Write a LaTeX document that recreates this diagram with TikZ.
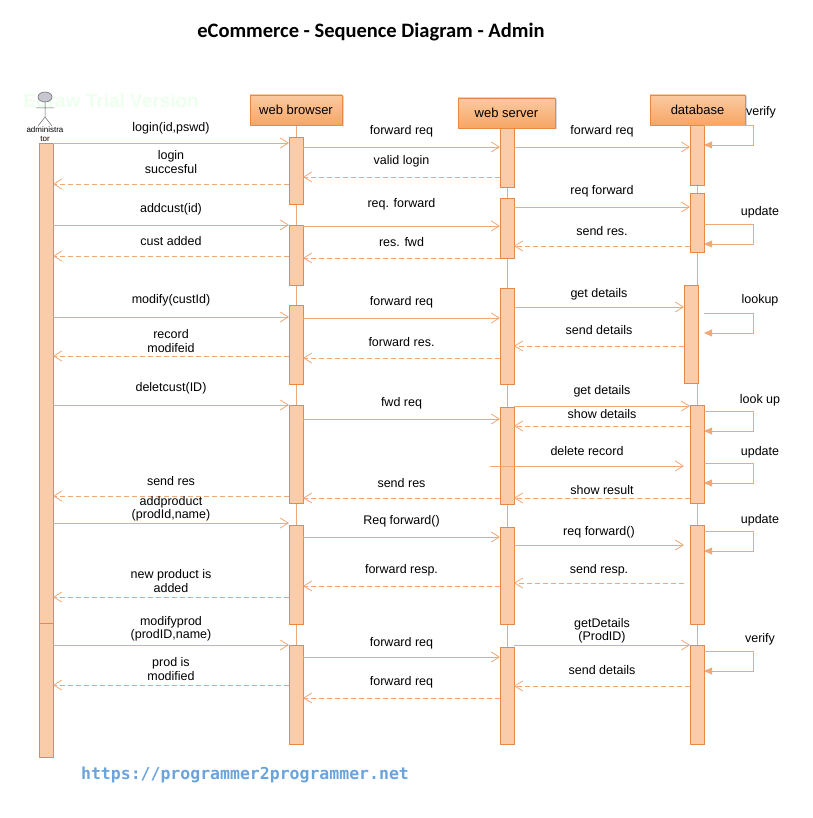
\documentclass[tikz,border=0pt]{standalone}
\usepackage{fontspec}
\setmainfont{Liberation Sans}
\newfontfamily\monof{DejaVu Sans Mono}
\newfontfamily\titlef{Carlito}
\usetikzlibrary{arrows.meta,shadows}
\definecolor{ln}{RGB}{242,168,118}
\definecolor{actf}{RGB}{251,204,170}
\definecolor{actd}{RGB}{232,136,70}
\definecolor{hdr}{RGB}{247,166,100}
\begin{document}
\begin{tikzpicture}[x=1pt,y=-1pt,font=\fontsize{12.5}{14}\selectfont,
  act/.style={draw=actd,fill=actf,line width=0.7pt},
  hbox/.style={draw=actd,top color=hdr!60,bottom color=hdr,minimum height=30pt,inner sep=0pt,font=\fontsize{13}{14}\selectfont,drop shadow={shadow xshift=1.5pt,shadow yshift=-1.5pt,fill=black!30}},
  sol/.style={ln,line width=0.8pt,-{Straight Barb[length=8pt,width=10pt]}},
  dsh/.style={ln,line width=0.8pt,dash pattern=on 5pt off 3pt,-{Straight Barb[length=8pt,width=10pt]}},
  loopa/.style={ln,line width=0.8pt,-{Triangle[length=8pt,width=7pt]}},
  lab/.style={inner sep=1pt,align=center,font=\fontsize{12.5}{13.5}\selectfont}]
\useasboundingbox (0,0) rectangle (812,818);
\node[font=\titlef\bfseries\fontsize{20.5}{22}\selectfont] (title) at (371,32) {eCommerce - Sequence Diagram - Admin};
\node[text=green!7,font=\bfseries\fontsize{19}{20}\selectfont,anchor=west] (wm) at (20,101) {Edraw Trial Version};
% lifelines
\draw[ln,line width=0.9pt] (296,125) -- (296,744);
\draw[ln,line width=0.9pt] (507,128) -- (507,744);
\draw[ln,line width=0.9pt] (697,125) -- (697,744);
% headers
\node[hbox,minimum width=92pt] (wb) at (296,110) {web browser};
\node[hbox,minimum width=97pt] (ws) at (506.5,113) {web server};
\node[hbox,minimum width=95pt] (db) at (697.5,110) {database};
% actor
\begin{scope}[draw=black!60,line width=0.5pt]
\draw[fill=blue!10!gray!40] (45,97) ellipse (7pt and 5pt);
\draw (45,102) -- (45,117) (36,108) -- (54,108) (45,117) -- (38,126) (45,117) -- (52,126);
\end{scope}
\node[font=\fontsize{8}{8.5}\selectfont,align=center] (adm) at (45,134) {administra\\tor};
% activations
\draw[act] (39,143) rectangle (53,623);
\draw[act] (39,623) rectangle (53,757);
\foreach \a/\b in {137/204,225/285,305/384,405/503,525/624,645/744} \draw[act] (289,\a) rectangle (303,\b);
\foreach \a/\b in {128/187,198/258,288/384,407/504,527/624,647/744} \draw[act] (500,\a) rectangle (514,\b);
\foreach \a/\b in {125/185,193/252,405/503,525/624,645/744} \draw[act] (690,\a) rectangle (704,\b);
\draw[act] (684,285) rectangle (698,383);
% self loops
\foreach \a/\b in {125/145,224/244,313/333,411/431,463/483,531/551,651/671}{
  \draw[loopa] (704,\a) -- (753,\a) -- (753,\b) -- (704,\b);
}
\node[lab] (v1) at (761,112) {verify};
\node[lab] (u1) at (760,212) {update};
\node[lab] (l1) at (760,300) {lookup};
\node[lab] (l2) at (760,400) {look up};
\node[lab] (u2) at (760,452) {update};
\node[lab] (u3) at (760,520) {update};
\node[lab] (v2) at (760,639) {verify};
\foreach \y/\xa/\xb/\s/\t/\ly in {
 143/53/289/sol/{login(id,pswd)}/128,
 147/303/500/sol/{forward req}/131,
 147/514/690/sol/{forward req}/131,
 177/500/303/dsh/{valid login}/161,
 184/289/53/dsh/{login\\succesful}/162,
 207/514/690/sol/{req forward}/191,
 225/53/289/sol/{addcust(id)}/209,
 226/303/500/sol/{req. forward}/204,
 246/690/514/dsh/{send res.}/231,
 258/500/303/dsh/{res. fwd}/242,
 256/289/53/dsh/{cust added}/241,
 317/53/289/sol/{modify(custId)}/300,
 318/303/500/sol/{forward req}/302,
 307/514/684/sol/{get details}/294,
 346/684/514/dsh/{send details}/330,
 358/500/303/dsh/{forward res.}/342,
 356/289/53/dsh/{record\\modifeid}/341,
 405/53/289/sol/{deletcust(ID)}/388,
 419/303/500/sol/{fwd req}/403,
 406/514/690/sol/{get details}/391,
 426/690/514/dsh/{show details}/414,
 466/490/684/sol/{delete record}/451,
 498/690/514/dsh/{show result}/490,
 498/500/303/dsh/{send res}/483,
 496/289/53/dsh/{send res}/481,
 523/53/289/sol/{addproduct\\(prodId,name)}/509,
 537/303/500/sol/{Req forward()}/521,
 545/514/684/sol/{req forward()}/532,
 583/684/514/dsh/{send resp.}/570,
 586/500/303/dsh/{forward resp.}/570,
 597/289/53/dsh/{new product is\\added}/581,
 645/53/289/sol/{modifyprod\\(prodID,name)}/629,
 657/303/500/sol/{forward req}/643,
 645/514/690/sol/{getDetails\\(ProdID)}/631,
 686/690/514/dsh/{send details}/670,
 698/500/303/dsh/{forward req}/682,
 685/289/53/dsh/{prod is\\modified}/669}{
  \draw[\s] (\xa,\y) -- (\xb,\y);
  \node[lab] at ({(\xa+\xb)/2},\ly) {\t};
}
\node[text=cyan!60!blue!60,font=\monof\bfseries\fontsize{16.5}{18}\selectfont] (url) at (245,775) {https://programmer2programmer.net};
\end{tikzpicture}
\end{document}
